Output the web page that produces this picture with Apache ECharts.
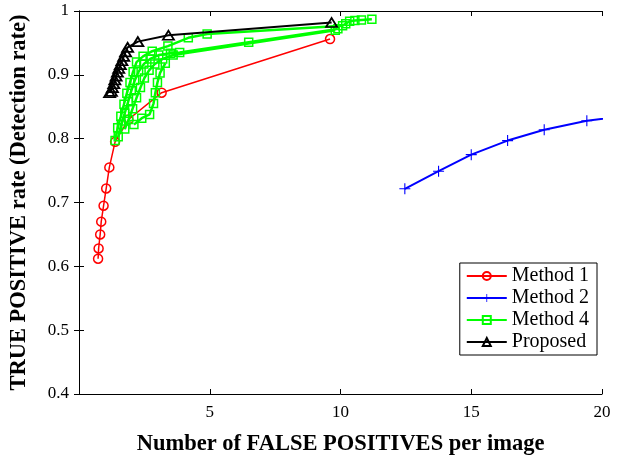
<!DOCTYPE html>
<html>
<head>
    <meta http-equiv="Content-Type" content="text/html; charset=utf-8" />
    <script src="https://cdn.jsdelivr.net/npm/echarts@6/dist/echarts.min.js"></script>
    <style>
        body { margin: 0; background: #fff; }
    </style>
</head>
<body>
<div id="roc" style="width: 630px; height: 461px;"></div>

<script type="text/javascript">
    // Method 1
    var m1x = [0.73, 0.75, 0.81, 0.85, 0.94, 1.04, 1.16, 1.38, 1.89, 3.16, 9.60];
    var m1y = [0.612, 0.628, 0.650, 0.670, 0.695, 0.722, 0.755, 0.795, 0.830, 0.872, 0.956];

    // Method 2
    var m2x = [12.46, 13.75, 15.0, 16.39, 17.79, 19.42, 21.0];
    var m2y = [0.7215, 0.749, 0.775, 0.797, 0.814, 0.828, 0.836];

    // Method 4 (several runs, drawn as one legend entry)
    var m4ax = [1.38, 1.48, 1.60, 1.72, 1.83, 1.95, 2.07, 2.20, 2.45, 2.80, 3.40, 4.18, 4.90, 10.08, 10.20, 10.35, 10.55, 10.80, 11.20];
    var m4ay = [0.797, 0.817, 0.835, 0.854, 0.871, 0.888, 0.905, 0.920, 0.929, 0.937, 0.945, 0.958, 0.964, 0.977, 0.980, 0.984, 0.985, 0.986, 0.987];
    var m4bx = [1.50, 1.62, 1.75, 1.88, 2.00, 2.13, 2.28, 2.48, 2.72, 3.05, 3.50, 3.85, 6.49, 9.90];
    var m4by = [0.803, 0.822, 0.840, 0.858, 0.875, 0.891, 0.905, 0.917, 0.925, 0.931, 0.934, 0.935, 0.951, 0.972];
    var m4cx = [1.75, 1.90, 2.05, 2.20, 2.35, 2.50, 2.68, 2.90, 3.20, 3.60, 9.80];
    var m4cy = [0.815, 0.830, 0.847, 0.864, 0.880, 0.895, 0.907, 0.917, 0.925, 0.931, 0.970];
    var m4dx = [2.10, 2.40, 2.70, 2.85, 2.92, 3.00, 3.10, 3.30];
    var m4dy = [0.822, 0.832, 0.838, 0.855, 0.872, 0.888, 0.903, 0.918];

    // Proposed
    var prx = [1.17, 1.24, 1.28, 1.33, 1.37, 1.42, 1.47, 1.52, 1.58, 1.64, 1.71, 1.78, 1.86, 2.25, 3.42, 9.66];
    var pry = [0.872, 0.874, 0.880, 0.886, 0.892, 0.898, 0.904, 0.910, 0.916, 0.922, 0.929, 0.936, 0.943, 0.952, 0.962, 0.982];

    var names = ['Method 1', 'Method 2', 'Method 4', 'Proposed'];

    function pairs(xs, ys) {
        var out = [];
        for (var i = 0; i < xs.length; i++) out.push([xs[i], ys[i]]);
        return out;
    }

    var serif = 'Liberation Serif';
    var plus = 'path://M-1,-10h2v20h-2z M-10,-1h20v2h-20z';

    function green(xs, ys) {
        return {
            name: 'Method 4', type: 'line', data: pairs(xs, ys),
            symbol: 'rect', symbolSize: 8, z: 3,
            lineStyle: { color: '#00ff00', width: 2.5 },
            itemStyle: { color: 'rgba(0,0,0,0)', borderColor: '#00ff00', borderWidth: 1.5 }
        };
    }

    var chart = echarts.init(document.getElementById('roc'));
    var option = {
        animation: false,
        grid: { left: 75, right: 28, top: 11, bottom: 60 },
        legend: {
            data: names,
            orient: 'vertical',
            right: 33, top: 263,
            backgroundColor: '#fff',
            borderColor: '#000', borderWidth: 1,
            padding: [3, 8, 3, 6],
            itemGap: 2, itemWidth: 40, itemHeight: 10,
            textStyle: { fontFamily: serif, fontSize: 20, color: '#000' }
        },
        xAxis: [{
            type: 'value', min: 0, max: 20, interval: 5,
            name: 'Number of FALSE POSITIVES per image',
            nameLocation: 'middle', nameGap: 39,
            nameTextStyle: { fontFamily: serif, fontSize: 22.5, fontWeight: 'bold', color: '#000' },
            axisLine: { lineStyle: { color: '#000', width: 1 } },
            axisTick: { inside: true, length: 5, lineStyle: { color: '#000' } },
            axisLabel: { showMinLabel: false, fontFamily: serif, fontSize: 17, color: '#000', margin: 10 },
            splitLine: { show: false }
        }, {
            type: 'value', min: 0, max: 20, interval: 5, position: 'top',
            axisLine: { lineStyle: { color: '#000', width: 1 } },
            axisTick: { inside: true, length: 5, lineStyle: { color: '#000' } },
            axisLabel: { show: false },
            splitLine: { show: false }
        }],
        yAxis: [{
            type: 'value', min: 0.4, max: 1, interval: 0.1,
            name: 'TRUE POSITIVE rate (Detection rate)',
            nameLocation: 'middle', nameGap: 48,
            nameTextStyle: { fontFamily: serif, fontSize: 22.5, fontWeight: 'bold', color: '#000' },
            axisLine: { show: true, lineStyle: { color: '#000', width: 1 } },
            axisTick: { show: true, inside: true, length: 5, lineStyle: { color: '#000' } },
            axisLabel: { fontFamily: serif, fontSize: 17, color: '#000', margin: 10,
                formatter: function (v) { return +v.toFixed(1) + ''; } },
            splitLine: { show: false }
        }, {
            type: 'value', min: 0.4, max: 1, interval: 0.1, position: 'right',
            axisLine: { show: true, lineStyle: { color: '#000', width: 1 } },
            axisTick: { show: true, inside: true, length: 5, lineStyle: { color: '#000' } },
            axisLabel: { show: false },
            splitLine: { show: false }
        }],
        series: [
            {
                name: 'Method 1', type: 'line', data: pairs(m1x, m1y),
                symbol: 'circle', symbolSize: 9, z: 2,
                lineStyle: { color: '#ff0000', width: 1.5 },
                itemStyle: { color: 'rgba(0,0,0,0)', borderColor: '#ff0000', borderWidth: 1.5 }
            },
            {
                name: 'Method 2', type: 'line', data: pairs(m2x, m2y),
                symbol: plus, symbolSize: 11, z: 2,
                lineStyle: { color: '#0000ff', width: 2 },
                itemStyle: { color: '#0000ff' }
            },
            green(m4ax, m4ay),
            green(m4bx, m4by),
            green(m4cx, m4cy),
            green(m4dx, m4dy),
            {
                name: 'Proposed', type: 'line', data: pairs(prx, pry),
                symbol: 'triangle', symbolSize: [11, 9], z: 4,
                lineStyle: { color: '#000', width: 2 },
                itemStyle: { color: 'rgba(0,0,0,0)', borderColor: '#000', borderWidth: 1.8 }
            }
        ]
    };
    chart.setOption(option);
</script>
</body>
</html>
